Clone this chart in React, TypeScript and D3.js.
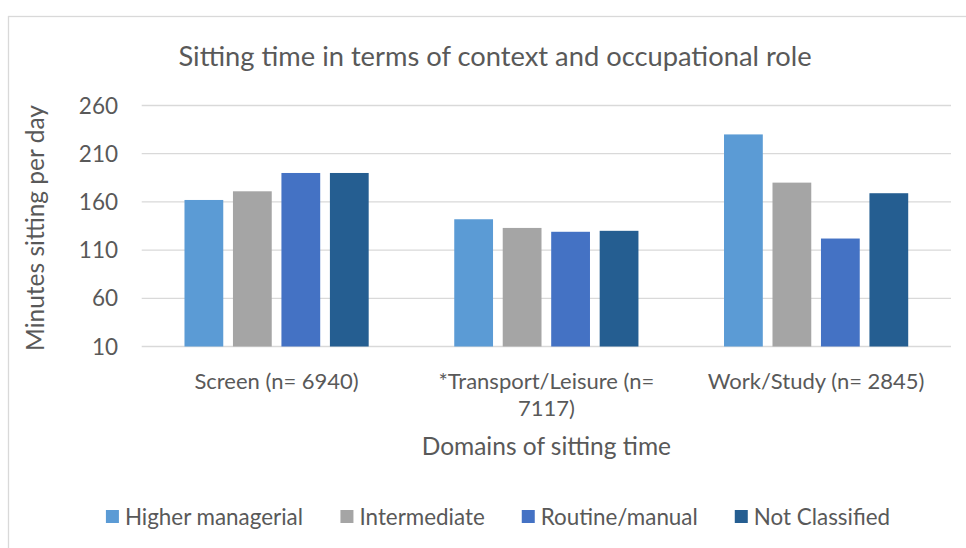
import React, { useMemo } from 'react';
import * as d3 from 'd3';

// ---- data ----
const categories = ['Screen (n= 6940)', '*Transport/Leisure (n= 7117)', 'Work/Study (n= 2845)'];
const seriesNames = ['Higher managerial', 'Intermediate', 'Routine/manual', 'Not Classified'];
const higherManagerial = [162, 142, 230];
const intermediate = [171, 133, 180];
const routineManual = [190, 129, 122];
const notClassified = [190, 130, 169];
const yTicks = [10, 60, 110, 160, 210, 260];
const seriesColors = ['#5B9BD5', '#A5A5A5', '#4472C4', '#255E91'];
const titleText = 'Sitting time in terms of context and occupational role';
const xAxisTitle = 'Domains of sitting time';
const yAxisTitle = 'Minutes sitting per day';

const seriesValues = [higherManagerial, intermediate, routineManual, notClassified];

// ---- layout ----
const W = 966;
const H = 548;
const plot = { left: 141.7, right: 951, top: 105.5, bottom: 346.5 };
const FONT = "Lato, 'Open Sans', sans-serif";
const TEXT = '#595959';
const GRID = '#d9d9d9';
const TICK_SIZE = 22.5;
const CAT_SIZE = 22;
const LEGEND_SIZE = 22.4;
const AXIS_TITLE_SIZE = 24.5;
const TITLE_SIZE = 27.3;

function measure(text: string, size: number): number {
  const c = document.createElement('canvas');
  const ctx = c.getContext('2d');
  if (!ctx) return text.length * size * 0.5;
  ctx.font = `${size}px Lato`;
  return ctx.measureText(text).width;
}

function wrap(text: string, size: number, maxW: number): string[] {
  const words = text.split(' ');
  const lines: string[] = [];
  let cur = '';
  for (const w of words) {
    const trial = cur ? cur + ' ' + w : w;
    if (cur && measure(trial, size) > maxW) {
      lines.push(cur);
      cur = w;
    } else {
      cur = trial;
    }
  }
  if (cur) lines.push(cur);
  return lines;
}

export default function App() {
  const y = d3.scaleLinear().domain([10, 260]).range([plot.bottom, plot.top]);
  const x0 = d3.scaleBand<string>().domain(categories).range([plot.left, plot.right]).padding(0);
  const groupW = 184.2;
  const x1 = d3.scaleBand<string>().domain(seriesNames).range([0, groupW]).paddingInner(0.2).paddingOuter(0);

  const catLines = useMemo(
    () => categories.map((c) => wrap(c, CAT_SIZE, x0.bandwidth() - 20)),
    []
  );

  const legend = useMemo(() => {
    const sq = 13;
    const gap = 6;
    const spacing = 37;
    const widths = seriesNames.map((s) => sq + gap + measure(s, LEGEND_SIZE));
    const total = d3.sum(widths) + spacing * (seriesNames.length - 1);
    let cx = 498 - total / 2;
    return seriesNames.map((s, i) => {
      const item = { name: s, x: cx, color: seriesColors[i], sq, gap };
      cx += widths[i] + spacing;
      return item;
    });
  }, []);

  return (
    <svg
      width={W}
      height={H}
      style={{ position: 'absolute', left: 0, top: 0, display: 'block', background: '#fff' }}
      fontFamily={FONT}
    >
      <rect x={8.5} y={16.5} width={1000} height={600} fill="#fff" stroke={GRID} strokeWidth={1.3} />

      <text x={495} y={66} textAnchor="middle" fontSize={TITLE_SIZE} fill={TEXT}>
        {titleText}
      </text>

      {yTicks.map((t) => (
        <g key={t}>
          <line x1={plot.left} x2={plot.right} y1={y(t)} y2={y(t)} stroke={GRID} strokeWidth={1.3} />
          <text x={118} y={y(t) + 8} textAnchor="end" fontSize={TICK_SIZE} fill={TEXT}>
            {t}
          </text>
        </g>
      ))}

      {categories.map((c, ci) => {
        const gx = (x0(c) as number) + (x0.bandwidth() - groupW) / 2;
        return (
          <g key={c}>
            {seriesNames.map((s, si) => {
              const v = seriesValues[si][ci];
              return (
                <rect
                  key={s}
                  x={gx + (x1(s) as number)}
                  y={y(v)}
                  width={x1.bandwidth()}
                  height={y(10) - y(v)}
                  fill={seriesColors[si]}
                />
              );
            })}
            {catLines[ci].map((ln, li) => (
              <text
                key={li}
                x={(x0(c) as number) + x0.bandwidth() / 2}
                y={389 + li * 27}
                textAnchor="middle"
                fontSize={CAT_SIZE}
                fill={TEXT}
              >
                {ln}
              </text>
            ))}
          </g>
        );
      })}

      <text
        x={(plot.left + plot.right) / 2}
        y={455}
        textAnchor="middle"
        fontSize={AXIS_TITLE_SIZE}
        fill={TEXT}
      >
        {xAxisTitle}
      </text>

      <text
        transform={`translate(44, 228) rotate(-90)`}
        textAnchor="middle"
        fontSize={AXIS_TITLE_SIZE}
        fill={TEXT}
      >
        {yAxisTitle}
      </text>

      {legend.map((it) => (
        <g key={it.name}>
          <rect x={it.x} y={510} width={it.sq} height={it.sq} fill={it.color} />
          <text x={it.x + it.sq + it.gap} y={524.5} fontSize={LEGEND_SIZE} fill={TEXT}>
            {it.name}
          </text>
        </g>
      ))}
    </svg>
  );
}
